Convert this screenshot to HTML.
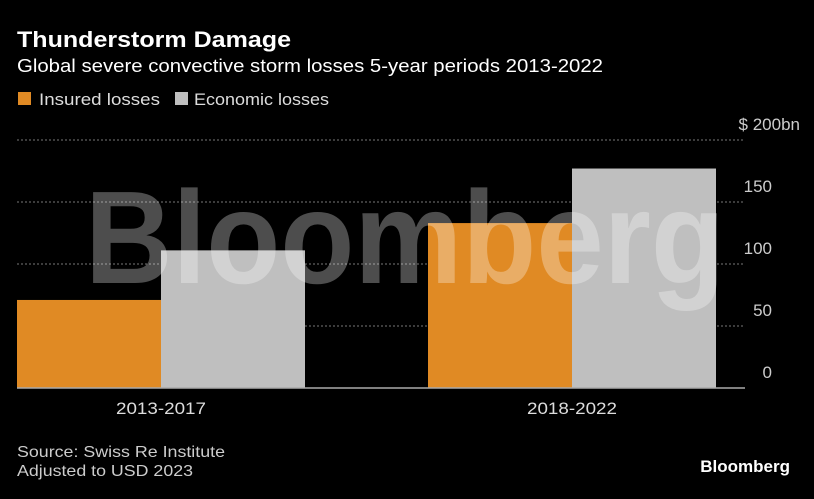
<!DOCTYPE html>
<html><head><meta charset="utf-8"><style>
html,body{margin:0;padding:0;background:#000;}
body{width:814px;height:494px;overflow:hidden;font-family:"Liberation Sans",sans-serif;}
</style></head><body>
<svg width="814" height="494" xmlns="http://www.w3.org/2000/svg" style="font-family:'Liberation Sans',sans-serif">
<rect width="814" height="494" fill="#000"/>
<text x="17" y="47" fill="#fff" font-size="22" font-weight="bold" textLength="274" lengthAdjust="spacingAndGlyphs">Thunderstorm Damage</text>
<text x="17" y="72" fill="#fff" font-size="18" textLength="586" lengthAdjust="spacingAndGlyphs">Global severe convective storm losses 5-year periods 2013-2022</text>
<g>
<rect x="18" y="92" width="13" height="13" fill="#e08a24"/>
<text x="39" y="105" fill="#ddd" font-size="17" textLength="121" lengthAdjust="spacingAndGlyphs">Insured losses</text>
<rect x="175" y="92" width="13" height="13" fill="#bfbfbf"/>
<text x="194" y="105" fill="#ddd" font-size="17" textLength="135" lengthAdjust="spacingAndGlyphs">Economic losses</text>
</g>
<g id="grid"></g>
<g id="bars"></g>
<text x="85" y="283" textLength="640" lengthAdjust="spacingAndGlyphs" font-size="132" font-weight="bold" fill="#fff" fill-opacity="0.3">Bloomberg</text>
<g id="axes"></g>
<text x="17" y="457" fill="#ccc" font-size="16" textLength="208" lengthAdjust="spacingAndGlyphs">Source: Swiss Re Institute</text>
<text x="17" y="476" fill="#ccc" font-size="16" textLength="176" lengthAdjust="spacingAndGlyphs">Adjusted to USD 2023</text>
<text x="790" y="472" text-anchor="end" fill="#fff" font-size="17" font-weight="bold">Bloomberg</text>
</svg>
<script>
const categories = ["2013-2017", "2018-2022"];
const insured = [71, 133];
const economic = [111, 177];
const tickValues = [0, 50, 100, 150, 200];
const tickLabels = ["0", "50", "100", "150", "$ 200bn"];

const NS = "http://www.w3.org/2000/svg";
const y0 = 388, y1 = 140, vmax = 200;
const yS = v => y0 - (v / vmax) * (y0 - y1);
const plotL = 17, barW = 144;
const groupX = i => plotL + i * 411;
function mk(tag, attrs, parent) {
  const e = document.createElementNS(NS, tag);
  for (const k in attrs) e.setAttribute(k, attrs[k]);
  parent.appendChild(e);
  return e;
}
const grid = document.getElementById("grid"), bars = document.getElementById("bars"), axes = document.getElementById("axes");
tickValues.forEach((v, i) => {
  if (v !== 0) {
    const l = mk("line", {x1: plotL, x2: 745, y1: yS(v), y2: yS(v), stroke: "#777", "stroke-dasharray": "2,2", "stroke-width": 1}, grid);
    
    
  }
  const t = mk("text", {x: i === tickValues.length - 1 ? 800 : 772, y: yS(v) - 10, "text-anchor": "end", fill: "#ccc", "font-size": 17}, axes);
  t.textContent = tickLabels[i];
  
  
});
categories.forEach((c, i) => {
  const x = groupX(i);
  const r1 = mk("rect", {x: x, y: yS(insured[i]), width: barW, height: y0 - yS(insured[i]), fill: "#e08a24"}, bars);
  
  
  const r2 = mk("rect", {x: x + barW, y: yS(economic[i]), width: barW, height: y0 - yS(economic[i]), fill: "#bfbfbf"}, bars);
  
  
  const t = mk("text", {x: x + barW - 45, y: 414, fill: "#ddd", "font-size": 17, textLength: 90, lengthAdjust: "spacingAndGlyphs"}, axes);
  t.textContent = c;
  
  
});
const base = mk("line", {x1: plotL, x2: 745, y1: y0, y2: y0, stroke: "#aaa", "stroke-width": 1.5}, axes);


</script>
</body></html>
